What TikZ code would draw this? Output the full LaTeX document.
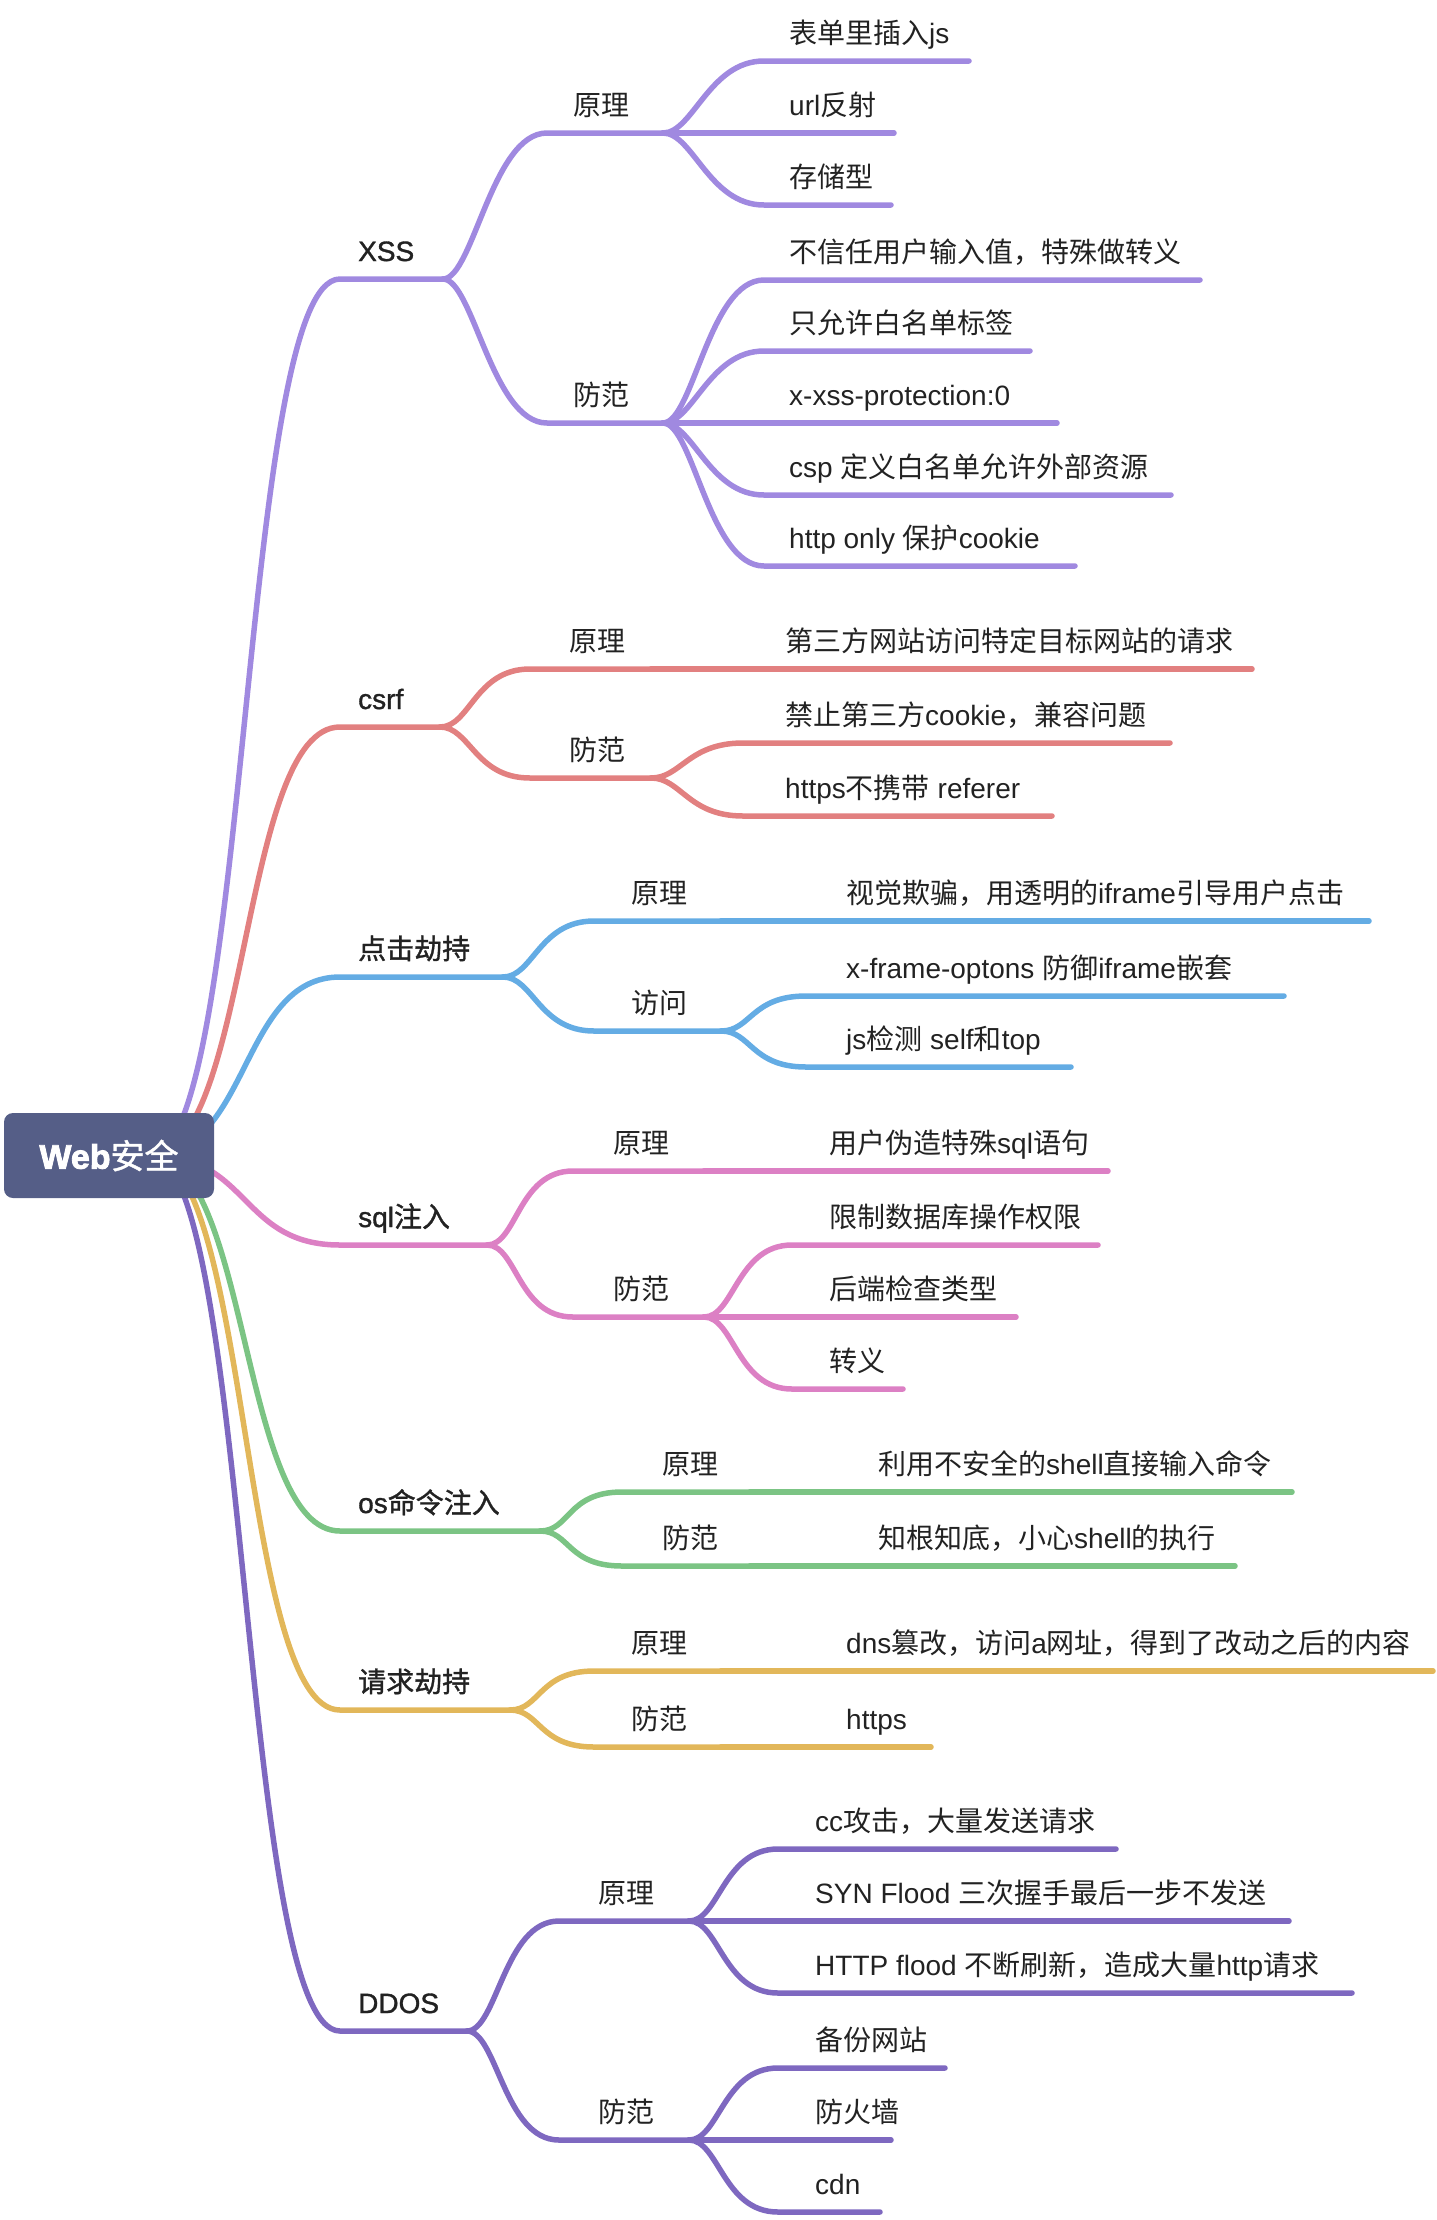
\documentclass[tikz,border=0pt]{standalone}
\usepackage{fontspec}
\setmainfont{Liberation Sans}[BoldFont={Liberation Sans}, BoldFeatures={FakeBold=1.2}]
\newfontfamily\cjkfont{Noto Sans CJK SC}[BoldFont={Noto Sans CJK SC}, BoldFeatures={FakeBold=1.2}]
\usepackage{tikz}

% CJK runs switch to the CJK font, the rest stays in Liberation Sans
\XeTeXinterchartokenstate=1
\newXeTeXintercharclass\cjkclass
\count255="3000
\loop
  \XeTeXcharclass\count255=\cjkclass
  \ifnum\count255<"9FFF \advance\count255 by 1 \repeat
\count255="FF00
\loop
  \XeTeXcharclass\count255=\cjkclass
  \ifnum\count255<"FFEF \advance\count255 by 1 \repeat
\XeTeXinterchartoks 0 \cjkclass = {\begingroup\cjkfont}
\XeTeXinterchartoks 4095 \cjkclass = {\begingroup\cjkfont}
\XeTeXinterchartoks \cjkclass 0 = {\endgroup}
\XeTeXinterchartoks \cjkclass 4095 = {\endgroup}

\definecolor{rootc}{RGB}{85,94,135}
\definecolor{xssc}{RGB}{160,137,224}
\definecolor{csrfc}{RGB}{226,128,128}
\definecolor{clickc}{RGB}{100,172,228}
\definecolor{sqlc}{RGB}{220,128,196}
\definecolor{osc}{RGB}{123,196,132}
\definecolor{reqc}{RGB}{226,183,90}
\definecolor{ddosc}{RGB}{126,104,192}
\definecolor{inkc}{RGB}{34,34,34}

\tikzset{
  branch/.style={line width=5.5pt, line cap=round, draw=#1},
  topic/.style={anchor=base west, inner sep=0pt, text=inkc, font=\fontsize{28}{34}\selectfont\bfseries},
  sub/.style={anchor=base west, inner sep=0pt, text=inkc, font=\fontsize{28}{34}\selectfont},
  leaf/.style={anchor=base west, inner sep=0pt, text=inkc, font=\fontsize{28}{34}\selectfont}
}

\begin{document}
\begin{tikzpicture}[x=1pt, y=-1pt,
    root/.style={rectangle, rounded corners=9pt, fill=rootc, text=white,
      minimum width=210pt, minimum height=85pt, inner sep=0pt,
      font=\fontsize{34}{42}\selectfont\bfseries}]
  \useasboundingbox (0,0) rectangle (1436,2220);
  \coordinate (hub) at (150,1155);

  % XSS
  \node[topic] (xss) at (358,261) {XSS};
  \coordinate (xss-s) at (340,279);
  \coordinate (xss-e) at (443,279);
  \draw[branch=xssc] (hub) .. controls +(100,0) and +(-100,0) .. (xss-s) -- (xss-e);
  \node[sub] (xss-yl) at (573,115) {原理};
  \coordinate (xss-yl-s) at (547,133);
  \coordinate (xss-yl-e) at (663,133);
  \draw[branch=xssc] (xss-e) .. controls +(30,0) and +(-55,0) .. (xss-yl-s) -- (xss-yl-e);
  \foreach \y/\e/\t [count=\i] in {61/969/表单里插入js, 133/894/url反射, 205/891/存储型} {
    \node[leaf] (xss-yl-\i) at (789,\y-18) {\t};
    \coordinate (xss-yl-\i-s) at (764,\y);
    \coordinate (xss-yl-\i-e) at (\e,\y);
    \draw[branch=xssc] (xss-yl-e) .. controls +(30,0) and +(-55,0) .. (xss-yl-\i-s) -- (xss-yl-\i-e);
  }
  \node[sub] (xss-ff) at (573,405) {防范};
  \coordinate (xss-ff-s) at (547,423);
  \coordinate (xss-ff-e) at (663,423);
  \draw[branch=xssc] (xss-e) .. controls +(30,0) and +(-55,0) .. (xss-ff-s) -- (xss-ff-e);
  \foreach \y/\e/\t [count=\i] in {280/1200/不信任用户输入值，特殊做转义, 351/1030/只允许白名单标签,
      423/1057/x-xss-protection:0, 495/1171/csp 定义白名单允许外部资源, 566/1075/http only 保护cookie} {
    \node[leaf] (xss-ff-\i) at (789,\y-18) {\t};
    \coordinate (xss-ff-\i-s) at (764,\y);
    \coordinate (xss-ff-\i-e) at (\e,\y);
    \draw[branch=xssc] (xss-ff-e) .. controls +(30,0) and +(-55,0) .. (xss-ff-\i-s) -- (xss-ff-\i-e);
  }

  % csrf
  \node[topic] (csrf) at (358,709) {csrf};
  \coordinate (csrf-s) at (340,727);
  \coordinate (csrf-e) at (440,727);
  \draw[branch=csrfc] (hub) .. controls +(100,0) and +(-100,0) .. (csrf-s) -- (csrf-e);
  \node[sub] (csrf-yl) at (569,651) {原理};
  \coordinate (csrf-yl-s) at (530,669);
  \coordinate (csrf-yl-e) at (651,669);
  \draw[branch=csrfc] (csrf-e) .. controls +(30,0) and +(-55,0) .. (csrf-yl-s) -- (csrf-yl-e);
  \node[leaf] (csrf-yl-1) at (785,651) {第三方网站访问特定目标网站的请求};
  \coordinate (csrf-yl-1-e) at (1252,669);
  \draw[branch=csrfc] (csrf-yl-e) -- (csrf-yl-1-e);
  \node[sub] (csrf-ff) at (569,760) {防范};
  \coordinate (csrf-ff-s) at (530,778);
  \coordinate (csrf-ff-e) at (651,778);
  \draw[branch=csrfc] (csrf-e) .. controls +(30,0) and +(-55,0) .. (csrf-ff-s) -- (csrf-ff-e);
  \foreach \y/\e/\t [count=\i] in {743/1170/禁止第三方cookie，兼容问题, 816/1052/https不携带 referer} {
    \node[leaf] (csrf-ff-\i) at (785,\y-18) {\t};
    \coordinate (csrf-ff-\i-s) at (743,\y);
    \coordinate (csrf-ff-\i-e) at (\e,\y);
    \draw[branch=csrfc] (csrf-ff-e) .. controls +(30,0) and +(-55,0) .. (csrf-ff-\i-s) -- (csrf-ff-\i-e);
  }

  % 点击劫持
  \node[topic] (click) at (358,959) {点击劫持};
  \coordinate (click-s) at (340,977);
  \coordinate (click-e) at (503,977);
  \draw[branch=clickc] (hub) .. controls +(100,0) and +(-100,0) .. (click-s) -- (click-e);
  \node[sub] (click-yl) at (631,903) {原理};
  \coordinate (click-yl-s) at (594,921);
  \coordinate (click-yl-e) at (721,921);
  \draw[branch=clickc] (click-e) .. controls +(30,0) and +(-55,0) .. (click-yl-s) -- (click-yl-e);
  \node[leaf] (click-yl-1) at (846,903) {视觉欺骗，用透明的iframe引导用户点击};
  \coordinate (click-yl-1-e) at (1369,921);
  \draw[branch=clickc] (click-yl-e) -- (click-yl-1-e);
  \node[sub] (click-fw) at (631,1013) {访问};
  \coordinate (click-fw-s) at (594,1031);
  \coordinate (click-fw-e) at (721,1031);
  \draw[branch=clickc] (click-e) .. controls +(30,0) and +(-55,0) .. (click-fw-s) -- (click-fw-e);
  \foreach \y/\e/\t [count=\i] in {996/1284/x-frame-optons 防御iframe嵌套, 1067/1071/js检测 self和top} {
    \node[leaf] (click-fw-\i) at (846,\y-18) {\t};
    \coordinate (click-fw-\i-s) at (806,\y);
    \coordinate (click-fw-\i-e) at (\e,\y);
    \draw[branch=clickc] (click-fw-e) .. controls +(30,0) and +(-55,0) .. (click-fw-\i-s) -- (click-fw-\i-e);
  }

  % sql注入
  \node[topic] (sql) at (358,1227) {sql注入};
  \coordinate (sql-s) at (340,1245);
  \coordinate (sql-e) at (487,1245);
  \draw[branch=sqlc] (hub) .. controls +(100,0) and +(-100,0) .. (sql-s) -- (sql-e);
  \node[sub] (sql-yl) at (613,1153) {原理};
  \coordinate (sql-yl-s) at (573,1171);
  \coordinate (sql-yl-e) at (704,1171);
  \draw[branch=sqlc] (sql-e) .. controls +(30,0) and +(-55,0) .. (sql-yl-s) -- (sql-yl-e);
  \node[leaf] (sql-yl-1) at (829,1153) {用户伪造特殊sql语句};
  \coordinate (sql-yl-1-e) at (1108,1171);
  \draw[branch=sqlc] (sql-yl-e) -- (sql-yl-1-e);
  \node[sub] (sql-ff) at (613,1299) {防范};
  \coordinate (sql-ff-s) at (573,1317);
  \coordinate (sql-ff-e) at (704,1317);
  \draw[branch=sqlc] (sql-e) .. controls +(30,0) and +(-55,0) .. (sql-ff-s) -- (sql-ff-e);
  \foreach \y/\e/\t [count=\i] in {1245/1098/限制数据库操作权限, 1317/1016/后端检查类型, 1389/903/转义} {
    \node[leaf] (sql-ff-\i) at (829,\y-18) {\t};
    \coordinate (sql-ff-\i-s) at (792,\y);
    \coordinate (sql-ff-\i-e) at (\e,\y);
    \draw[branch=sqlc] (sql-ff-e) .. controls +(30,0) and +(-55,0) .. (sql-ff-\i-s) -- (sql-ff-\i-e);
  }

  % os命令注入
  \node[topic] (os) at (358,1513) {os命令注入};
  \coordinate (os-s) at (340,1531);
  \coordinate (os-e) at (540,1531);
  \draw[branch=osc] (hub) .. controls +(100,0) and +(-100,0) .. (os-s) -- (os-e);
  \node[sub] (os-yl) at (662,1474) {原理};
  \coordinate (os-yl-s) at (622,1492);
  \coordinate (os-yl-e) at (750,1492);
  \draw[branch=osc] (os-e) .. controls +(30,0) and +(-55,0) .. (os-yl-s) -- (os-yl-e);
  \node[leaf] (os-yl-1) at (878,1474) {利用不安全的shell直接输入命令};
  \coordinate (os-yl-1-e) at (1292,1492);
  \draw[branch=osc] (os-yl-e) -- (os-yl-1-e);
  \node[sub] (os-ff) at (662,1548) {防范};
  \coordinate (os-ff-s) at (622,1566);
  \coordinate (os-ff-e) at (750,1566);
  \draw[branch=osc] (os-e) .. controls +(30,0) and +(-55,0) .. (os-ff-s) -- (os-ff-e);
  \node[leaf] (os-ff-1) at (878,1548) {知根知底，小心shell的执行};
  \coordinate (os-ff-1-e) at (1235,1566);
  \draw[branch=osc] (os-ff-e) -- (os-ff-1-e);

  % 请求劫持
  \node[topic] (req) at (358,1692) {请求劫持};
  \coordinate (req-s) at (340,1710);
  \coordinate (req-e) at (510,1710);
  \draw[branch=reqc] (hub) .. controls +(100,0) and +(-100,0) .. (req-s) -- (req-e);
  \node[sub] (req-yl) at (631,1653) {原理};
  \coordinate (req-yl-s) at (594,1671);
  \coordinate (req-yl-e) at (721,1671);
  \draw[branch=reqc] (req-e) .. controls +(30,0) and +(-55,0) .. (req-yl-s) -- (req-yl-e);
  \node[leaf] (req-yl-1) at (846,1653) {dns篡改，访问a网址，得到了改动之后的内容};
  \coordinate (req-yl-1-e) at (1433,1671);
  \draw[branch=reqc] (req-yl-e) -- (req-yl-1-e);
  \node[sub] (req-ff) at (631,1729) {防范};
  \coordinate (req-ff-s) at (594,1747);
  \coordinate (req-ff-e) at (721,1747);
  \draw[branch=reqc] (req-e) .. controls +(30,0) and +(-55,0) .. (req-ff-s) -- (req-ff-e);
  \node[leaf] (req-ff-1) at (846,1729) {https};
  \coordinate (req-ff-1-e) at (931,1747);
  \draw[branch=reqc] (req-ff-e) -- (req-ff-1-e);

  % DDOS
  \node[topic] (ddos) at (358,2013) {DDOS};
  \coordinate (ddos-s) at (340,2031);
  \coordinate (ddos-e) at (467,2031);
  \draw[branch=ddosc] (hub) .. controls +(100,0) and +(-100,0) .. (ddos-s) -- (ddos-e);
  \node[sub] (ddos-yl) at (598,1903) {原理};
  \coordinate (ddos-yl-s) at (559,1921);
  \coordinate (ddos-yl-e) at (689,1921);
  \draw[branch=ddosc] (ddos-e) .. controls +(30,0) and +(-55,0) .. (ddos-yl-s) -- (ddos-yl-e);
  \foreach \y/\e/\t [count=\i] in {1849/1116/cc攻击，大量发送请求, 1921/1289/SYN Flood 三次握手最后一步不发送,
      1993/1352/HTTP flood 不断刷新，造成大量http请求} {
    \node[leaf] (ddos-yl-\i) at (815,\y-18) {\t};
    \coordinate (ddos-yl-\i-s) at (778,\y);
    \coordinate (ddos-yl-\i-e) at (\e,\y);
    \draw[branch=ddosc] (ddos-yl-e) .. controls +(30,0) and +(-55,0) .. (ddos-yl-\i-s) -- (ddos-yl-\i-e);
  }
  \node[sub] (ddos-ff) at (598,2122) {防范};
  \coordinate (ddos-ff-s) at (559,2140);
  \coordinate (ddos-ff-e) at (689,2140);
  \draw[branch=ddosc] (ddos-e) .. controls +(30,0) and +(-55,0) .. (ddos-ff-s) -- (ddos-ff-e);
  \foreach \y/\e/\t [count=\i] in {2068/945/备份网站, 2140/891/防火墙, 2212/880/cdn} {
    \node[leaf] (ddos-ff-\i) at (815,\y-18) {\t};
    \coordinate (ddos-ff-\i-s) at (778,\y);
    \coordinate (ddos-ff-\i-e) at (\e,\y);
    \draw[branch=ddosc] (ddos-ff-e) .. controls +(30,0) and +(-55,0) .. (ddos-ff-\i-s) -- (ddos-ff-\i-e);
  }

  % root on top of the branch roots
  \node[root] (web) at (109,1155.5) {\fontspec{Liberation Sans}[FakeBold=2.5]Web\cjkfont\fontspec{Noto Sans CJK SC Bold}安全};
\end{tikzpicture}
\end{document}
